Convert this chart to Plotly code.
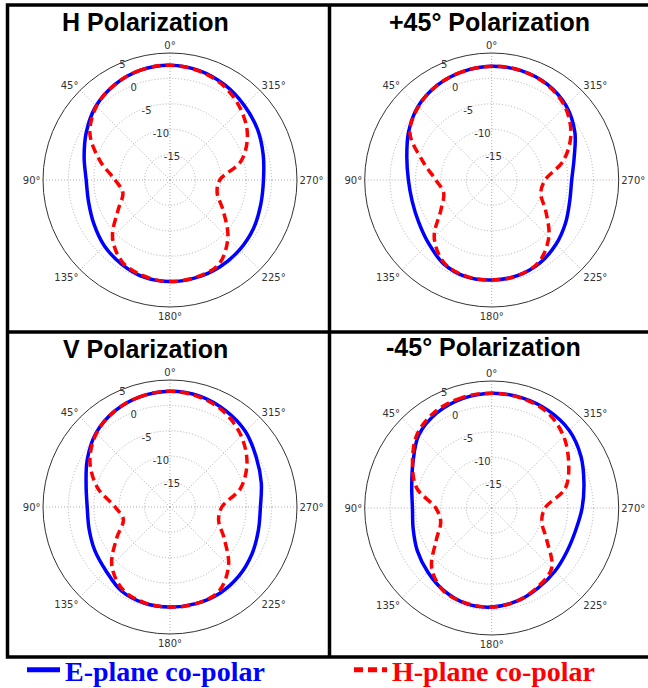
import plotly.graph_objects as go

# angles in degrees (0 at top, counter-clockwise), closed curve
theta = [0, 15, 30, 45, 60, 75, 90, 105, 120, 135, 150, 165, 180,
         195, 210, 225, 240, 255, 270, 285, 300, 315, 330, 345, 360]

# H Polarization
h_e = [2.6, 2.4, 1.7, 0.6, -1.0, -2.5, -3.5, -3.4, -2.7, -1.7, -0.9, -0.2, 0.0,
       -0.1, -0.3, -0.6, -1.0, -1.5, -1.6, -1.0, -0.1, 0.7, 1.6, 2.3, 2.6]
h_h = [2.6, 2.4, 1.7, 0.5, -1.8, -5.8, -9.2, -10.4, -8.2, -4.0, -1.3, -0.4, 0.0,
       -0.2, -0.8, -3.9, -7.9, -10.4, -10.2, -5.5, -2.4, -0.3, 1.3, 2.2, 2.6]
# +45 Polarization
p45_e = [2.4, 2.1, 1.5, 0.5, -1.1, -2.7, -3.6, -3.8, -3.4, -2.4, -1.0, -0.3, -0.3,
         -0.5, -1.1, -2.1, -3.2, -4.1, -4.25, -3.2, -1.1, 0.7, 1.8, 2.3, 2.4]
p45_h = [2.4, 2.1, 1.5, 0.4, -1.4, -6.0, -9.0, -10.2, -8.5, -4.0, -1.2, -0.4, -0.3,
         -0.5, -1.4, -4.1, -7.7, -10.0, -9.5, -5.4, -2.0, 0.4, 1.7, 2.3, 2.4]
# V Polarization
v_e = [2.8, 2.5, 1.8, 0.6, -1.2, -2.9, -3.7, -3.5, -2.9, -2.2, -0.9, -0.4, -0.3,
       -0.3, -0.4, -0.8, -1.4, -2.0, -2.2, -1.4, -0.4, 1.0, 1.9, 2.6, 2.8]
v_h = [2.8, 2.5, 1.8, 0.5, -1.8, -5.2, -9.2, -10.5, -7.9, -3.8, -1.3, -0.5, -0.3,
       -0.3, -0.8, -3.7, -7.7, -10.1, -9.8, -5.6, -2.5, -0.2, 1.5, 2.4, 2.8]
# -45 Polarization
m45_e = [2.6, 2.3, 1.6, 0.3, -2.1, -3.7, -4.4, -4.0, -3.1, -2.2, -1.2, -0.5, -0.5,
         -1.0, -1.8, -2.4, -2.9, -2.9, -2.2, -1.2, 0.3, 1.6, 2.2, 2.5, 2.6]
m45_h = [2.6, 2.5, 2.0, 0.7, -2.0, -4.7, -9.0, -9.6, -7.4, -3.3, -1.1, -0.6, -0.5,
         -1.0, -2.0, -3.3, -7.5, -9.8, -9.5, -5.0, -2.5, 0.0, 1.8, 2.4, 2.6]

titles = ["H Polarization", "+45° Polarization", "V Polarization", "-45° Polarization"]
e_series = [h_e, p45_e, v_e, m45_e]
h_series = [h_h, p45_h, v_h, m45_h]

r_ticks = [-15, -10, -5, 0, 5]
ang_ticks = [0, 45, 90, 135, 180, 225, 270, 315]
ang_labels = [f"{a}°" for a in ang_ticks]

W, H = 648, 688
R = 127
centers = [(170, 180), (491.7, 180), (170, 507), (491.7, 508)]
title_pos = [(145, 22), (489, 22), (145, 349), (483, 347)]

fig = go.Figure()
blue = "#0000ff"
red = "#ff0000"
tick_font = dict(family="DejaVu Sans", size=10, color="#333")
grid_col = "#b0b0b0"

for i in range(4):
    sub = "polar" if i == 0 else f"polar{i+1}"
    fig.add_trace(go.Scatterpolar(
        r=e_series[i], theta=theta, mode="lines", subplot=sub,
        line=dict(color=blue, width=3.5, shape="spline", smoothing=1),
        name="<b>E-plane co-polar</b>", legend="legend",
        showlegend=(i == 0), hoverinfo="skip"))
    fig.add_trace(go.Scatterpolar(
        r=h_series[i], theta=theta, mode="lines", subplot=sub,
        line=dict(color=red, width=3.5, dash="9px,5px", shape="spline", smoothing=1),
        name="<b>H-plane co-polar</b>", legend="legend2",
        showlegend=(i == 0), hoverinfo="skip"))
    cx, cy = centers[i]
    polar = dict(
        domain=dict(x=[(cx - R) / W, (cx + R) / W],
                    y=[1 - (cy + R) / H, 1 - (cy - R) / H]),
        bgcolor="white",
        radialaxis=dict(range=[-20, 5], tickmode="array", tickvals=r_ticks,
                        ticktext=[str(v) for v in r_ticks],
                        showline=False, ticks="", angle=116, side="clockwise",
                        tickangle=116,
                        gridcolor=grid_col, griddash="1px,2px", gridwidth=1,
                        tickfont=tick_font),
        angularaxis=dict(rotation=90, direction="counterclockwise",
                         tickmode="array", tickvals=ang_ticks, ticktext=ang_labels,
                         showline=True, linecolor="#333", linewidth=1, ticks="",
                         gridcolor=grid_col, griddash="1px,2px", gridwidth=1,
                         tickfont=tick_font),
    )
    fig.update_layout(**{sub: polar})
    tx, ty = title_pos[i]
    fig.add_annotation(x=tx / W, y=1 - ty / H, xref="paper", yref="paper",
                       text=f"<b>{titles[i]}</b>", showarrow=False,
                       xanchor="center", yanchor="middle",
                       font=dict(family="Liberation Sans", size=25, color="black"))

def px(x):
    return x / W

def py(y):
    return 1 - y / H

# panel frames
frame = dict(color="black", width=3.5)
fig.add_shape(type="rect", xref="paper", yref="paper", x0=px(7.5), x1=px(652),
              y0=py(657), y1=py(5), line=frame)
fig.add_shape(type="line", xref="paper", yref="paper", x0=px(329.5), x1=px(329.5),
              y0=py(657), y1=py(5), line=frame)
fig.add_shape(type="line", xref="paper", yref="paper", x0=px(7.5), x1=px(652),
              y0=py(332), y1=py(332), line=frame)

leg_common = dict(orientation="h", y=py(670), xanchor="left", yanchor="middle",
                  bgcolor="rgba(0,0,0,0)", itemsizing="constant", itemwidth=33)
fig.update_layout(
    width=W, height=H, margin=dict(l=0, r=0, t=0, b=0, autoexpand=False),
    paper_bgcolor="white", plot_bgcolor="white",
    showlegend=True,
    legend=dict(x=px(22), font=dict(family="Liberation Serif", size=28, color=blue),
                **leg_common),
    legend2=dict(x=px(349), font=dict(family="Liberation Serif", size=28, color=red),
                 **leg_common),
)

fig.write_html("out.html", config={"displayModeBar": False},
               post_script="document.body.style.margin='0px';"
                           "document.documentElement.style.overflow='hidden';"
                           "document.body.style.overflow='hidden';")
